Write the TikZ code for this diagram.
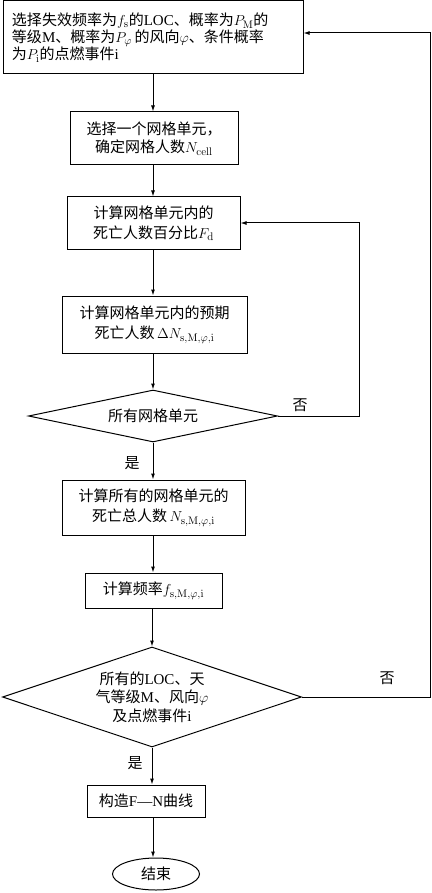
\documentclass[tikz,border=0pt]{standalone}
\usepackage[no-math]{fontspec}
\setmainfont{Noto Sans CJK SC}
\newfontfamily\lat{Liberation Serif}
\usetikzlibrary{shapes.geometric,arrows.meta,calc}
\begin{document}
\begin{tikzpicture}[x=1pt,y=-1pt,
  box/.style={draw, line width=1pt, inner sep=0pt, align=center, font=\fontsize{15}{20}\selectfont},
  dia/.style={draw, diamond, line width=1pt, inner sep=0pt},
  txt/.style={inner sep=0pt, align=center, font=\fontsize{15}{18.5}\selectfont},
  lab/.style={inner sep=0pt, font=\fontsize{15}{18}\selectfont},
  arr/.style={line width=1pt, -{Latex[length=6pt,width=4pt]}},
  ln/.style={line width=1pt}]
\useasboundingbox (0,0) rectangle (431,893);

\node[box, minimum width=300pt, minimum height=73pt, text width=282pt, align=left,
      font=\fontsize{15}{17}\selectfont] (b1) at (153,37.5)
 {选择失效频率为$f_{\mathrm{s}}$的{\lat LOC}、概率为$P_{\mathrm{M}}$的\\
  等级{\lat M}、概率为$P_{\varphi}$\,的风向$\varphi$、条件概率\\
  为$P_{\mathrm{i}}$的点燃事件{\lat i}};

\node[box, minimum width=168pt, minimum height=53pt, font=\fontsize{15}{18}\selectfont] (b2) at (154,138.5)
 {选择一个网格单元，\\确定网格人数$N_{\mathrm{cell}}$};

\node[box, minimum width=173pt, minimum height=52pt] (b3) at (153.5,223)
 {计算网格单元内的\\死亡人数百分比$F_{\mathrm{d}}$};

\node[box, minimum width=185pt, minimum height=57pt] (b4) at (154.5,324.5)
 {计算网格单元内的预期\\死亡人数\,$\Delta N_{\mathrm{s,M},\varphi,\mathrm{i}}$};

\node[dia, minimum width=249pt, minimum height=52pt] (d1) at (153,416) {};
\node[txt] (t1) at (d1.center) {所有网格单元};

\node[box, minimum width=183pt, minimum height=55pt] (b5) at (153.5,507.5)
 {计算所有的网格单元的\\死亡总人数\,$N_{\mathrm{s,M},\varphi,\mathrm{i}}$};

\node[box, minimum width=137pt, minimum height=35pt] (b6) at (153.5,590.5)
 {计算频率$f_{\mathrm{s,M},\varphi,\mathrm{i}}$};

\node[dia, minimum width=299pt, minimum height=100pt] (d2) at (152,697) {};
\node[txt] (t2) at (d2.center)
 {所有的{\lat LOC}、天\\气等级{\lat M}、风向$\varphi$\\及点燃事件{\lat i}};

\node[box, minimum width=118pt, minimum height=32pt] (b7) at (146,801)
 {构造{\lat F—N}曲线};

\node[draw, ellipse, line width=1pt, inner sep=0pt, minimum width=87pt, minimum height=32pt,
      font=\fontsize{15}{18}\selectfont] (e) at (156,874) {结束};

\coordinate (col) at (153,0);
\coordinate (r1) at (359,0);
\coordinate (r2) at (430,0);

\draw[arr] (b1.south -| col) -- (b2.north -| col);
\draw[arr] (b2.south -| col) -- (b3.north -| col);
\draw[arr] (b3.south -| col) -- (b4.north -| col);
\draw[arr] (b4.south -| col) -- (d1.north);
\draw[arr] (d1.south) -- (d1.south |- b5.north);
\draw[arr] (b5.south -| col) -- (b6.north -| col);
\draw[arr] (b6.south -| d2.north) -- (d2.north);
\draw[arr] (d2.south) -- (d2.south |- b7.north);
\draw[arr] (b7.south -| col) -- (e.north -| col);

\draw[arr] (d1.east) -- (d1.east -| r1) |- (b3.east);
\draw[arr] (d2.east) -- (d2.east -| r2) |- ([yshift=4.5pt]b1.east);

\node[lab] (n1) at (300,405) {否};
\node[lab] (y1) at (132,463) {是};
\node[lab] (n2) at (387,678) {否};
\node[lab] (y2) at (135,763) {是};
\end{tikzpicture}
\end{document}
